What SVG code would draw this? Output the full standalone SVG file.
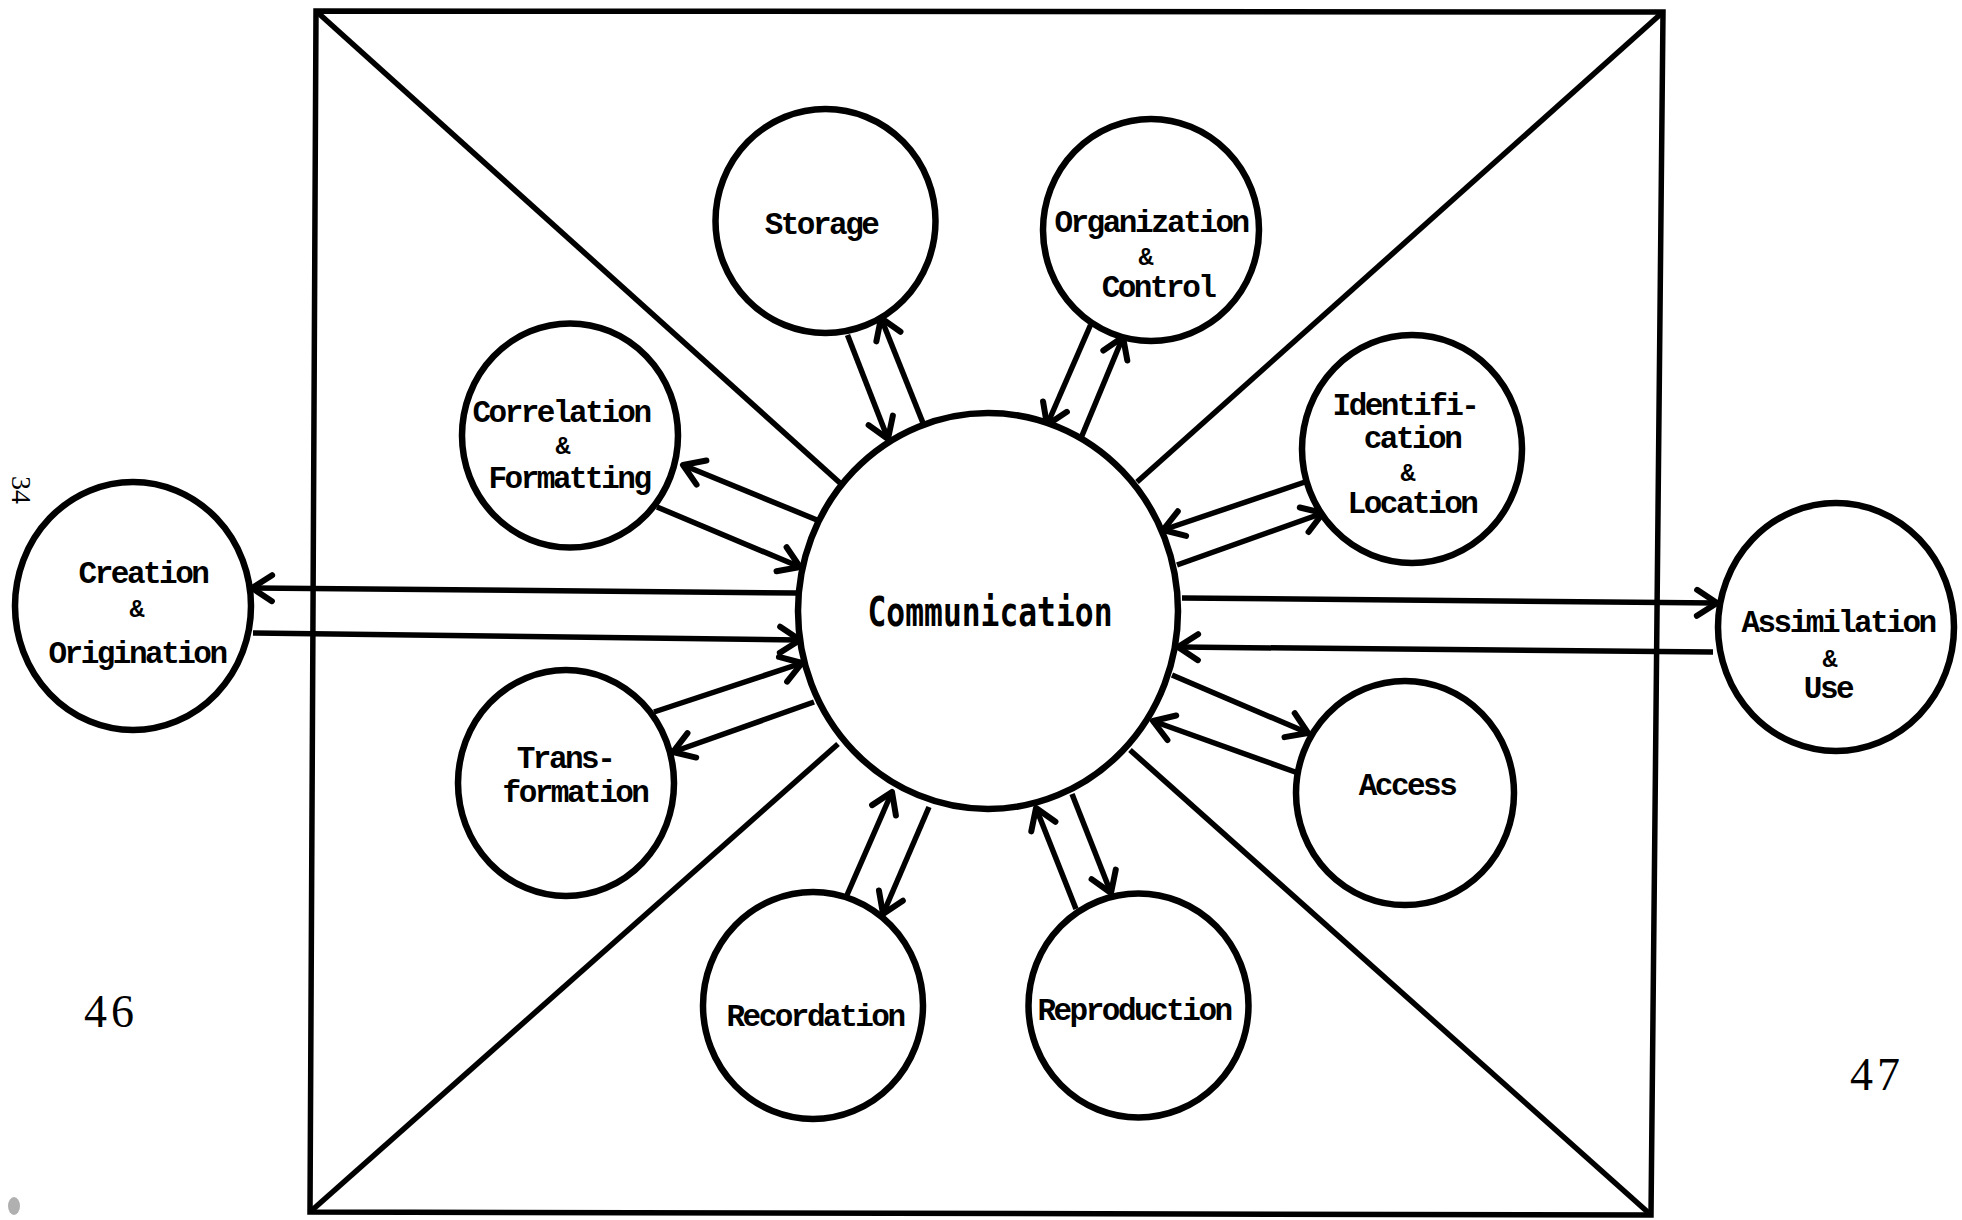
<svg xmlns="http://www.w3.org/2000/svg" width="1962" height="1220" viewBox="0 0 1962 1220">
  <style>
    .bg { fill: #ffffff; }
    .frame { fill: none; stroke: #000; stroke-width: 5.5; stroke-linejoin: miter; }
    .diag { fill: none; stroke: #000; stroke-width: 5.5; }
    .node { fill: #ffffff; stroke: #000; stroke-width: 6.5; }
    .conn { fill: none; stroke: #000; stroke-width: 5.5; stroke-linecap: butt; marker-end: url(#ah); }
    .lbl { font-family: "Liberation Mono", "DejaVu Sans Mono", monospace; font-weight: bold; font-size: 31px; letter-spacing: -2.5px; text-anchor: middle; fill: #000; }
    .amp { font-family: "Liberation Mono", "DejaVu Sans Mono", monospace; font-weight: bold; font-size: 25px; text-anchor: middle; fill: #000; }
    .center { font-family: "DejaVu Sans Mono", "Liberation Mono", monospace; font-weight: bold; font-size: 40px; text-anchor: middle; fill: #000; }
    .page { font-family: "Liberation Serif", "DejaVu Serif", serif; fill: #000; }
  </style>
  <defs>
    <marker id="ah" viewBox="-24 -16 28 32" refX="0" refY="0" markerWidth="28" markerHeight="32" markerUnits="userSpaceOnUse" orient="auto" overflow="visible">
      <path d="M-20,-13 L0,0 L-20,13" fill="none" stroke="#000" stroke-width="6" stroke-linecap="round" stroke-linejoin="round"/>
    </marker>
  </defs>

  <rect class="bg" x="0" y="0" width="1962" height="1220"/>

  <g id="frame">
    <polygon class="frame" points="316,11 1663,12 1651,1215 310,1212"/>
    <line class="diag" x1="316" y1="11" x2="840" y2="483"/>
    <line class="diag" x1="1663" y1="12" x2="1137" y2="482"/>
    <line class="diag" x1="310" y1="1212" x2="838" y2="744"/>
    <line class="diag" x1="1651" y1="1215" x2="1130" y2="750"/>
  </g>

  <g id="connectors">
    <line class="conn" x1="847.5" y1="335" x2="888" y2="439"/>
    <line class="conn" x1="923" y1="423" x2="881" y2="318"/>
    <line class="conn" x1="1090.5" y1="325" x2="1047" y2="425"/>
    <line class="conn" x1="1081" y1="438" x2="1123" y2="337"/>
    <line class="conn" x1="817" y1="520" x2="683" y2="465"/>
    <line class="conn" x1="657" y1="507" x2="800" y2="567"/>
    <line class="conn" x1="797" y1="593" x2="252" y2="588"/>
    <line class="conn" x1="253" y1="633" x2="800" y2="640"/>
    <line class="conn" x1="654" y1="712" x2="802" y2="663"/>
    <line class="conn" x1="814" y1="702" x2="673" y2="752"/>
    <line class="conn" x1="847" y1="895" x2="892" y2="792"/>
    <line class="conn" x1="929" y1="807" x2="883" y2="914"/>
    <line class="conn" x1="1076" y1="909" x2="1036" y2="808"/>
    <line class="conn" x1="1072" y1="794" x2="1111" y2="893"/>
    <line class="conn" x1="1172" y1="675" x2="1308" y2="733"/>
    <line class="conn" x1="1298" y1="773" x2="1153" y2="721"/>
    <line class="conn" x1="1305" y1="482" x2="1163" y2="530"/>
    <line class="conn" x1="1177" y1="565" x2="1323" y2="513"/>
    <line class="conn" x1="1182" y1="598" x2="1717" y2="603"/>
    <line class="conn" x1="1713" y1="652" x2="1178" y2="647"/>
  </g>

  <g id="communication">
    <ellipse class="node" cx="988" cy="611" rx="190" ry="198"/>
    <text class="center" x="990" y="626" textLength="245" lengthAdjust="spacingAndGlyphs">Communication</text>
  </g>

  <g id="storage">
    <ellipse class="node" cx="825.5" cy="221" rx="110" ry="112"/>
    <text class="lbl" x="821" y="234">Storage</text>
  </g>

  <g id="organization-control">
    <ellipse class="node" cx="1151" cy="230" rx="108" ry="111"/>
    <text class="lbl" x="1151" y="232">Organization</text>
    <text class="amp" x="1146" y="265">&amp;</text>
    <text class="lbl" x="1158" y="297">Control</text>
  </g>

  <g id="correlation-formatting">
    <ellipse class="node" cx="570" cy="435.5" rx="108" ry="112"/>
    <text class="lbl" x="561" y="422">Correlation</text>
    <text class="amp" x="563" y="454">&amp;</text>
    <text class="lbl" x="569" y="488">Formatting</text>
  </g>

  <g id="identification-location">
    <ellipse class="node" cx="1412" cy="449" rx="110" ry="114"/>
    <text class="lbl" x="1405" y="415">Identifi-</text>
    <text class="lbl" x="1412" y="448">cation</text>
    <text class="amp" x="1408" y="481">&amp;</text>
    <text class="lbl" x="1412" y="513">Location</text>
  </g>

  <g id="creation-origination">
    <ellipse class="node" cx="133" cy="606" rx="118" ry="124"/>
    <text class="lbl" x="143" y="583">Creation</text>
    <text class="amp" x="137" y="617">&amp;</text>
    <text class="lbl" x="137" y="663">Origination</text>
  </g>

  <g id="assimilation-use">
    <ellipse class="node" cx="1836" cy="627" rx="118" ry="124"/>
    <text class="lbl" x="1838" y="632">Assimilation</text>
    <text class="amp" x="1830" y="667">&amp;</text>
    <text class="lbl" x="1828" y="698">Use</text>
  </g>

  <g id="transformation">
    <ellipse class="node" cx="566" cy="783" rx="108" ry="113"/>
    <text class="lbl" x="565" y="768">Trans-</text>
    <text class="lbl" x="575" y="802">formation</text>
  </g>

  <g id="recordation">
    <ellipse class="node" cx="813" cy="1005.5" rx="110" ry="113.5"/>
    <text class="lbl" x="815" y="1026">Recordation</text>
  </g>

  <g id="access">
    <ellipse class="node" cx="1405" cy="793" rx="109" ry="112"/>
    <text class="lbl" x="1407" y="795">Access</text>
  </g>

  <g id="reproduction">
    <ellipse class="node" cx="1138.5" cy="1005.5" rx="110" ry="112"/>
    <text class="lbl" x="1134" y="1020">Reproduction</text>
  </g>

  <g id="page-marks">
    <text class="page" font-size="28" transform="translate(12,476) rotate(90)">34</text>
    <text class="page" font-size="46" letter-spacing="4" x="84" y="1027">46</text>
    <text class="page" font-size="46" letter-spacing="4" x="1850" y="1090">47</text>
    <ellipse cx="14" cy="1206" rx="6" ry="9" fill="#b0b0b0"/>
  </g>
</svg>
